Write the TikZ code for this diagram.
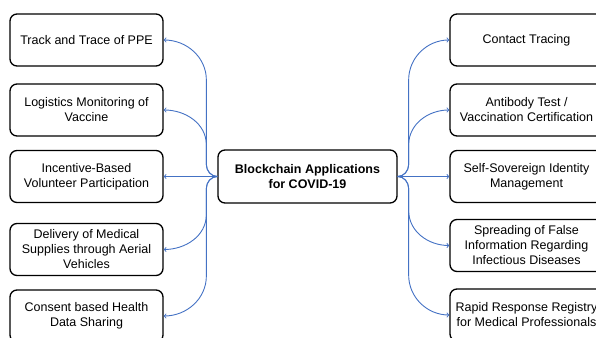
\documentclass[tikz,border=0pt]{standalone}
\usepackage{fontspec}
\setmainfont{Liberation Sans}
\usepackage{tikz}
\usetikzlibrary{arrows}
\definecolor{linkblue}{RGB}{68,114,196}

\begin{document}
\begin{tikzpicture}[x=1pt,y=1pt,
	box/.style={draw,line width=1.3pt,rounded corners=7pt,minimum width=153pt,minimum height=52pt,align=center,font=\fontsize{12.5}{15}\selectfont},
	link/.style={->,>=to,draw=linkblue,line width=0.9pt}]
	\useasboundingbox (0,0) rectangle (596,337);
	\clip (0,0) rectangle (596,337);
	\node[box,minimum width=179pt,minimum height=53pt,font=\fontsize{12.5}{15}\selectfont\bfseries] (c) at (307.5,160.5) {Blockchain Applications\\for COVID-19};
	%
	\node[box] (l1) at (86.5,297) {Track and Trace of PPE};
	\node[box] (l2) at (86.5,227) {Logistics Monitoring of\\Vaccine};
	\node[box] (l3) at (86.5,160.5) {Incentive-Based\\Volunteer Participation};
	\node[box] (l4) at (86.5,87.5) {Delivery of Medical\\Supplies through Aerial\\Vehicles};
	\node[box] (l5) at (86.5,21) {Consent based Health\\Data Sharing};
	%
	\node[box] (r1) at (526.5,297) {Contact Tracing};
	\node[box] (r2) at (526.5,227) {Antibody Test /\\Vaccination Certification};
	\node[box] (r3) at (526.5,160.5) {Self-Sovereign Identity\\Management};
	\node[box] (r4) at (526.5,91.5) {Spreading of False\\Information Regarding\\Infectious Diseases};
	\node[box] (r5) at (526.5,22) {Rapid Response Registry\\for Medical Professionals};
	%
	\draw [link] (c.west) to[out=180,in=-90] ++(-11,12) -- ++(0,84.5) to[out=90,in=0] (l1.east);
	\draw [link] (c.west) to[out=180,in=-90] ++(-11,12) -- ++(0,19.5) to[out=90,in=0] (l2.east);
	\draw [link] (c.west) to[] (l3.east);
	\draw [link] (c.west) to[out=180,in=90] ++(-11,-12) -- ++(0,-26) to[out=-90,in=0] (l4.east);
	\draw [link] (c.west) to[out=180,in=90] ++(-11,-12) -- ++(0,-87.5) to[out=-90,in=0] (l5.east);
	%
	\draw [link] (c.east) to[out=0,in=-90] ++(11,12) -- ++(0,84.5) to[out=90,in=180] (r1.west);
	\draw [link] (c.east) to[out=0,in=-90] ++(11,12) -- ++(0,19.5) to[out=90,in=180] (r2.west);
	\draw [link] (c.east) to[] (r3.west);
	\draw [link] (c.east) to[out=0,in=90] ++(11,-12) -- ++(0,-22) to[out=-90,in=180] (r4.west);
	\draw [link] (c.east) to[out=0,in=90] ++(11,-12) -- ++(0,-86.5) to[out=-90,in=180] (r5.west);
\end{tikzpicture}
\end{document}
